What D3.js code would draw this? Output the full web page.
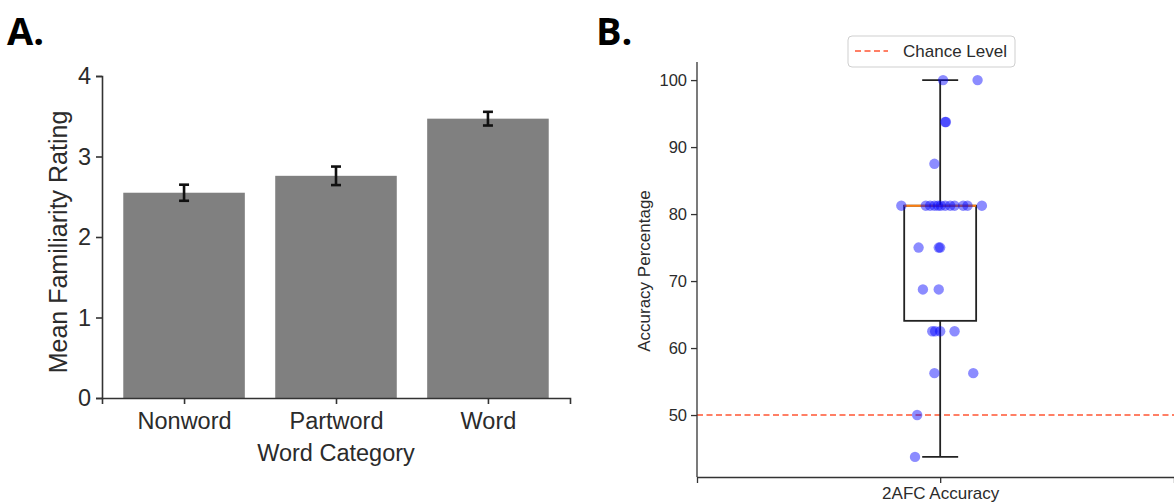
<!DOCTYPE html>
<html>
<head>
<meta charset="utf-8">
<script src="https://cdn.jsdelivr.net/npm/d3@7"></script>
<style>
  body { margin: 0; background: #fff; }
  svg { display: block; font-family: 'Liberation Sans', Arial, sans-serif; }
</style>
</head>
<body>
<svg id="chart" width="1174" height="502"></svg>
<script>
// Panel A: familiarity ratings
const categories = ['Nonword', 'Partword', 'Word'];
const meanRating = [2.55, 2.76, 3.47];
const ratingErr = [0.10, 0.115, 0.085];
const ratingTicks = [0, 1, 2, 3, 4];

// Panel B: 2AFC accuracy per participant, with horizontal jitter
const accuracy = [
  100, 100,
  93.75, 93.75,
  87.5,
  81.25, 81.25, 81.25, 81.25, 81.25, 81.25, 81.25, 81.25, 81.25, 81.25, 81.25, 81.25,
  75, 75, 75,
  68.75, 68.75,
  62.5, 62.5, 62.5, 62.5,
  56.25, 56.25,
  50,
  43.75
];
const jitter = [
  0.02, 0.26,
  0.035, 0.04,
  -0.04,
  -0.27, -0.10, -0.07, -0.04, -0.015, 0.005, 0.035, 0.07, 0.10, 0.16, 0.19, 0.29,
  -0.15, -0.01, 0.0,
  -0.12, -0.01,
  -0.055, -0.035, 0.0, 0.10,
  -0.04, 0.23,
  -0.16,
  -0.175
];
const accTicks = [50, 60, 70, 80, 90, 100];
const chanceLevel = 50;

const svg = d3.select('#chart');
const textCol = '#2b2b2b';
const axisCol = '#333';

// ---------- Panel A ----------
svg.append('text')
  .attr('x', 7).attr('y', 45)
  .style('font-family', "'Open Sans', sans-serif")
  .style('font-weight', 'bold')
  .style('font-size', '38px')
  .attr('fill', '#000')
  .text('A.');

const xA = d3.scaleLinear().domain([-0.54, 2.54]).range([102, 570]);
const yA = d3.scaleLinear().domain([0, 4]).range([398, 76]);

const gA = svg.append('g');

gA.selectAll('rect.bar')
  .data(meanRating)
  .enter()
  .append('rect')
  .attr('class', 'bar')
  .attr('x', (d, i) => xA(i - 0.4))
  .attr('y', d => yA(d))
  .attr('width', xA(0.8) - xA(0))
  .attr('height', d => yA(0) - yA(d))
  .attr('fill', '#808080');

// error bars
const errG = gA.selectAll('g.err')
  .data(meanRating)
  .enter()
  .append('g')
  .attr('stroke', '#111')
  .attr('stroke-width', 2.6);
errG.append('line')
  .attr('x1', (d, i) => xA(i)).attr('x2', (d, i) => xA(i))
  .attr('y1', (d, i) => yA(d - ratingErr[i])).attr('y2', (d, i) => yA(d + ratingErr[i]));
errG.append('line')
  .attr('x1', (d, i) => xA(i) - 5).attr('x2', (d, i) => xA(i) + 5)
  .attr('y1', (d, i) => yA(d + ratingErr[i])).attr('y2', (d, i) => yA(d + ratingErr[i]));
errG.append('line')
  .attr('x1', (d, i) => xA(i) - 5).attr('x2', (d, i) => xA(i) + 5)
  .attr('y1', (d, i) => yA(d - ratingErr[i])).attr('y2', (d, i) => yA(d - ratingErr[i]));

// y axis
const yAxisA = gA.append('g')
  .attr('transform', 'translate(102,0)')
  .call(d3.axisLeft(yA).tickValues(ratingTicks).tickFormat(d3.format('d')).tickSize(6).tickPadding(5));
yAxisA.select('.domain').attr('stroke', axisCol).attr('stroke-width', 1.6);
yAxisA.selectAll('.tick line').attr('stroke', axisCol).attr('stroke-width', 1.6);
yAxisA.selectAll('.tick text')
  .attr('fill', textCol)
  .style('font-size', '23.5px')
  .style('font-family', "'Liberation Sans', Arial, sans-serif");

// x axis
const xAxisA = gA.append('g')
  .attr('transform', 'translate(0,398)')
  .call(d3.axisBottom(xA).tickValues([0, 1, 2]).tickFormat((d) => categories[d]).tickSize(6).tickPadding(8));
xAxisA.select('.domain').attr('stroke', axisCol).attr('stroke-width', 1.6);
xAxisA.selectAll('.tick line').attr('stroke', axisCol).attr('stroke-width', 1.6);
xAxisA.selectAll('.tick text')
  .attr('fill', textCol)
  .style('font-size', '23.5px')
  .style('font-family', "'Liberation Sans', Arial, sans-serif");

gA.append('text')
  .attr('x', xA(1)).attr('y', 461)
  .attr('text-anchor', 'middle')
  .attr('fill', textCol)
  .style('font-size', '23.5px')
  .text('Word Category');

gA.append('text')
  .attr('transform', 'translate(67,242) rotate(-90)')
  .attr('text-anchor', 'middle')
  .attr('fill', textCol)
  .style('font-size', '25px')
  .text('Mean Familiarity Rating');

// ---------- Panel B ----------
svg.append('text')
  .attr('x', 596).attr('y', 45)
  .style('font-family', "'Open Sans', sans-serif")
  .style('font-weight', 'bold')
  .style('font-size', '38px')
  .attr('fill', '#000')
  .text('B.');

const xB = d3.scaleLinear().domain([-1.69, 1.625]).range([697, 1174]);
const yB = d3.scaleLinear().domain([40.75, 102.7]).range([477, 62]);

const gB = svg.append('g');

// chance line
gB.append('line')
  .attr('x1', xB(-1.69)).attr('x2', xB(1.625))
  .attr('y1', yB(chanceLevel)).attr('y2', yB(chanceLevel))
  .attr('stroke', '#ff5533')
  .attr('stroke-width', 1.6)
  .attr('stroke-dasharray', '6,3.5');

// box plot stats
const sorted = accuracy.slice().sort(d3.ascending);
const q1 = d3.quantileSorted(sorted, 0.25);
const med = d3.quantileSorted(sorted, 0.5);
const q3 = d3.quantileSorted(sorted, 0.75);
const iqr = q3 - q1;
const loW = d3.min(sorted.filter(v => v >= q1 - 1.5 * iqr));
const hiW = d3.max(sorted.filter(v => v <= q3 + 1.5 * iqr));

const boxG = gB.append('g').attr('stroke', '#222').attr('stroke-width', 1.8).attr('fill', 'none');
boxG.append('rect')
  .attr('x', xB(-0.25)).attr('y', yB(q3))
  .attr('width', xB(0.25) - xB(-0.25))
  .attr('height', yB(q1) - yB(q3));
boxG.append('line').attr('x1', xB(0)).attr('x2', xB(0)).attr('y1', yB(q3)).attr('y2', yB(hiW));
boxG.append('line').attr('x1', xB(0)).attr('x2', xB(0)).attr('y1', yB(q1)).attr('y2', yB(loW));
boxG.append('line').attr('x1', xB(-0.125)).attr('x2', xB(0.125)).attr('y1', yB(hiW)).attr('y2', yB(hiW));
boxG.append('line').attr('x1', xB(-0.125)).attr('x2', xB(0.125)).attr('y1', yB(loW)).attr('y2', yB(loW));
gB.append('line')
  .attr('x1', xB(-0.25)).attr('x2', xB(0.25))
  .attr('y1', yB(med)).attr('y2', yB(med))
  .attr('stroke', '#ff7f0e')
  .attr('stroke-width', 2);

// points
gB.selectAll('circle.pt')
  .data(accuracy)
  .enter()
  .append('circle')
  .attr('class', 'pt')
  .attr('cx', (d, i) => xB(jitter[i]))
  .attr('cy', d => yB(d))
  .attr('r', 5.2)
  .attr('fill', 'blue')
  .attr('fill-opacity', 0.45);

// y axis
const yAxisB = gB.append('g')
  .attr('transform', 'translate(697,0)')
  .call(d3.axisLeft(yB).tickValues(accTicks).tickSize(6).tickPadding(4));
yAxisB.select('.domain').attr('stroke', axisCol).attr('stroke-width', 1.3).attr('d', 'M0,62V477');
yAxisB.selectAll('.tick line').attr('stroke', axisCol).attr('stroke-width', 1.3);
yAxisB.selectAll('.tick text')
  .attr('fill', textCol)
  .style('font-size', '16.5px')
  .style('font-family', "'Liberation Sans', Arial, sans-serif");

// x axis
const xAxisB = gB.append('g')
  .attr('transform', 'translate(0,477)')
  .call(d3.axisBottom(xB).tickValues([0]).tickFormat(() => '2AFC Accuracy').tickSize(6).tickPadding(4));
xAxisB.select('.domain').attr('stroke', axisCol).attr('stroke-width', 1.3);
xAxisB.selectAll('.tick line').attr('stroke', axisCol).attr('stroke-width', 1.3);
xAxisB.selectAll('.tick text')
  .attr('fill', textCol)
  .style('font-size', '17px')
  .style('font-family', "'Liberation Sans', Arial, sans-serif");

gB.append('text')
  .attr('transform', 'translate(650,271) rotate(-90)')
  .attr('text-anchor', 'middle')
  .attr('fill', textCol)
  .style('font-size', '17px')
  .text('Accuracy Percentage');

// legend
const leg = gB.append('g').attr('transform', 'translate(848,36)');
leg.append('rect')
  .attr('width', 167).attr('height', 31)
  .attr('rx', 4)
  .attr('fill', '#fff')
  .attr('stroke', '#cfcfcf');
leg.append('line')
  .attr('x1', 7).attr('x2', 40).attr('y1', 15).attr('y2', 15)
  .attr('stroke', '#ff5533')
  .attr('stroke-width', 1.6)
  .attr('stroke-dasharray', '6,3.5');
leg.append('text')
  .attr('x', 55).attr('y', 21)
  .attr('fill', textCol)
  .style('font-size', '17px')
  .text('Chance Level');
</script>
</body>
</html>
